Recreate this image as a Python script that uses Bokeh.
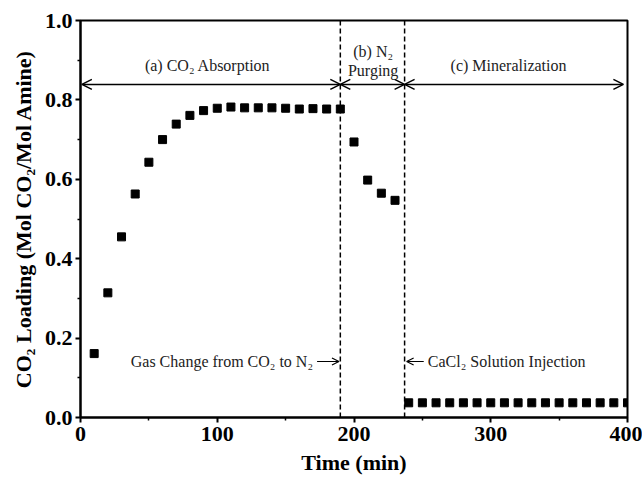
from bokeh.plotting import figure
from bokeh.models import Arrow, OpenHead, Span, Range1d, FixedTicker, PrintfTickFormatter
from bokeh.core.properties import value
from bokeh.embed import file_html
from bokeh.resources import INLINE

# --- data ---
time_abs = [10, 20, 30, 40, 50, 60, 70, 80, 90, 100, 110, 120, 130, 140, 150, 160, 170, 180, 190]
load_abs = [0.161, 0.314, 0.455, 0.563, 0.643, 0.700, 0.739, 0.761, 0.773, 0.779, 0.782, 0.780,
            0.780, 0.780, 0.779, 0.777, 0.778, 0.777, 0.777]
time_purge = [200, 210, 220, 230]
load_purge = [0.694, 0.598, 0.565, 0.547]
time_min = [240, 250, 260, 270, 280, 290, 300, 310, 320, 330, 340, 350, 360, 370, 380, 390, 400]
load_min = [0.037] * 17
x_ticks = [0, 100, 200, 300, 400]
y_ticks = [0.0, 0.2, 0.4, 0.6, 0.8, 1.0]
gas_change_t = 190
injection_t = 237

SERIF = "Liberation Serif"

p = figure(width=642, height=477, output_backend="svg", toolbar_location=None,
           x_range=Range1d(0, 400), y_range=Range1d(0, 1.0),
           min_border_left=80, min_border_right=15, min_border_top=20, min_border_bottom=59)
p.background_fill_color = "white"
p.border_fill_color = "white"
p.grid.visible = False
p.outline_line_color = "black"
p.outline_line_width = 2

for ax in (p.xaxis[0], p.yaxis[0]):
    ax.axis_line_width = 2
    ax.major_tick_line_width = 2
    ax.minor_tick_line_width = 1.5
    ax.major_tick_out = 5
    ax.major_tick_in = 0
    ax.minor_tick_out = 3
    ax.minor_tick_in = 0
    ax.major_label_text_font = SERIF
    ax.major_label_text_font_style = "bold"
    ax.major_label_text_font_size = "22px"
    ax.major_label_text_color = "black"
    ax.axis_label_text_font = SERIF
    ax.axis_label_text_font_style = "bold"
    ax.axis_label_text_font_size = "22px"
    ax.axis_label_text_color = "black"

p.xaxis.ticker = FixedTicker(ticks=x_ticks, minor_ticks=[50, 150, 250, 350])
p.yaxis.ticker = FixedTicker(ticks=y_ticks, minor_ticks=[0.1, 0.3, 0.5, 0.7, 0.9])
p.yaxis.formatter = PrintfTickFormatter(format="%.1f")
p.xaxis.axis_label = "Time (min)"
p.yaxis.axis_label = "CO₂ Loading (Mol CO₂/Mol Amine)"
p.xaxis.major_label_standoff = 4
p.xaxis.axis_label_standoff = 6
p.yaxis.major_label_standoff = 3
p.yaxis.axis_label_standoff = 6

# phase boundaries
for t in (gas_change_t, injection_t):
    p.add_layout(Span(location=t, dimension="height", line_color="black",
                      line_width=1.5, line_dash="5 3"))

# data
for xs, ys in ((time_abs, load_abs), (time_purge, load_purge), (time_min, load_min)):
    p.scatter(xs, ys, marker="square", size=8, color="black")

# phase arrows
ay = 0.839
def dbl_arrow(x0, x1):
    p.add_layout(Arrow(x_start=x0, x_end=x1, y_start=ay, y_end=ay, line_width=1.5,
                       start=OpenHead(size=10, line_width=1.5),
                       end=OpenHead(size=10, line_width=1.5)))
dbl_arrow(1, gas_change_t)
dbl_arrow(gas_change_t, injection_t)
dbl_arrow(injection_t, 397)

# annotations
c_x = [93, 214, 214, 313]
c_y = [0.887, 0.922, 0.873, 0.887]
c_t = ["(a) CO₂ Absorption", "(b) N₂", "Purging", "(c) Mineralization"]
p.text(x=c_x, y=c_y, text=c_t, text_font=value(SERIF), text_font_size="16px",
       text_align="center", text_baseline="middle", text_color="#222222")
p.text(x=[170], y=[0.141], text=["Gas Change from CO₂ to N₂"], text_font=value(SERIF),
       text_font_size="16px", text_align="right", text_baseline="middle", text_color="#222222")
p.text(x=[254], y=[0.141], text=["CaCl₂ Solution Injection"], text_font=value(SERIF),
       text_font_size="16px", text_align="left", text_baseline="middle", text_color="#222222")

p.add_layout(Arrow(x_start=173, x_end=189, y_start=0.141, y_end=0.141, line_width=1.2,
                   end=OpenHead(size=7, line_width=1.2)))
p.add_layout(Arrow(x_start=251, x_end=238.5, y_start=0.141, y_end=0.141, line_width=1.2,
                   end=OpenHead(size=7, line_width=1.2)))

open("out.html", "w").write(file_html(p, INLINE))
